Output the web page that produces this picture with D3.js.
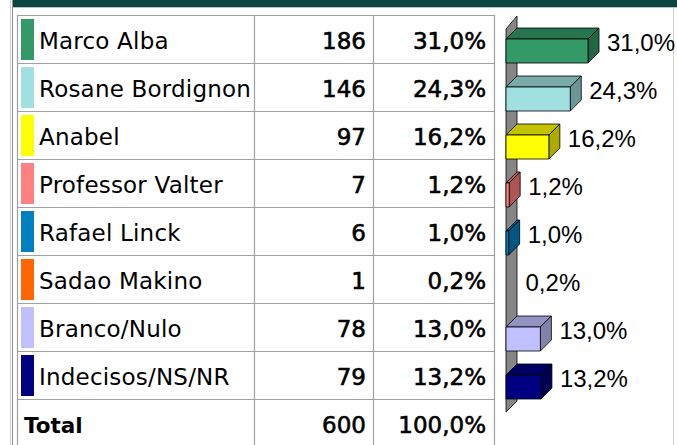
<!DOCTYPE html>
<html>
<head>
<meta charset="utf-8">
<script src="https://cdn.jsdelivr.net/npm/d3@7"></script>
<style>
  html, body { margin: 0; padding: 0; background: #fff; }
  svg { display: block; }
</style>
</head>
<body>
<svg id="chart" width="677" height="445"></svg>
<script>
// data
const names = ['Marco Alba', 'Rosane Bordignon', 'Anabel', 'Professor Valter',
  'Rafael Linck', 'Sadao Makino', 'Branco/Nulo', 'Indecisos/NS/NR'];
const votes = [186, 146, 97, 7, 6, 1, 78, 79];
const percents = [31.0, 24.3, 16.2, 1.2, 1.0, 0.2, 13.0, 13.2];
const colors = ['#339966', '#a0e0e0', '#ffff00', '#ff8080',
  '#0080c0', '#ff6600', '#c0c0ff', '#000080'];
const totalLabel = 'Total';
const totalVotes = 600;
const totalPercent = 100.0;

const fmtPct = v => d3.format('.1f')(v).replace('.', ',') + '%';

const svg = d3.select('#chart');
const W = 677, H = 445;

// page frame
svg.append('rect').attr('x', 12).attr('y', 0).attr('width', W - 12).attr('height', 7)
  .attr('fill', '#0b4641');
svg.append('line').attr('x1', 12).attr('x2', W).attr('y1', 7.5).attr('y2', 7.5)
  .attr('stroke', '#b8c4c2');
svg.append('line').attr('x1', 10.5).attr('x2', 10.5).attr('y1', 0).attr('y2', H)
  .attr('stroke', '#cfcfcf');
svg.append('line').attr('x1', 12.5).attr('x2', 12.5).attr('y1', 0).attr('y2', H)
  .attr('stroke', '#8c8c8c');
svg.append('line').attr('x1', 673.5).attr('x2', 673.5).attr('y1', 8).attr('y2', H)
  .attr('stroke', '#d0d0d0');

// table
const rows = names.concat([totalLabel]);
const y = d3.scaleBand().domain(rows).range([15, 15 + 48 * rows.length]).padding(0);
const colX = [17, 254, 373, 494];

const grid = svg.append('g').attr('stroke', '#a0a0a0').attr('stroke-width', 1.2);
rows.forEach(r => {
  grid.append('line').attr('x1', colX[0]).attr('x2', colX[3])
    .attr('y1', y(r) + 0.5).attr('y2', y(r) + 0.5);
});
colX.forEach(cx => {
  grid.append('line').attr('x1', cx + 0.5).attr('x2', cx + 0.5)
    .attr('y1', 15).attr('y2', H);
});

const txt = svg.append('g').attr('font-family', 'DejaVu Sans, Verdana, sans-serif')
  .attr('font-size', 23).attr('fill', '#000');

names.forEach((n, i) => {
  const top = y(n);
  svg.append('rect').attr('x', 21).attr('y', top + 4).attr('width', 13).attr('height', 41)
    .attr('fill', colors[i]);
  txt.append('text').attr('x', 39).attr('y', top + 34).attr('letter-spacing', 0.2).text(n);
  txt.append('text').attr('x', 366).attr('y', top + 34).attr('text-anchor', 'end')
    .attr('stroke', '#000').attr('stroke-width', 0.6).text(votes[i]);
  txt.append('text').attr('x', 486).attr('y', top + 34).attr('text-anchor', 'end')
    .attr('stroke', '#000').attr('stroke-width', 0.6).text(fmtPct(percents[i]));
});
const tTop = y(totalLabel);
txt.append('text').attr('x', 24).attr('y', tTop + 34).attr('font-weight', 'bold')
  .attr('font-size', 21.5).text(totalLabel);
txt.append('text').attr('x', 366).attr('y', tTop + 34).attr('text-anchor', 'end')
  .attr('stroke', '#000').attr('stroke-width', 0.6).text(totalVotes);
txt.append('text').attr('x', 486).attr('y', tTop + 34).attr('text-anchor', 'end')
  .attr('stroke', '#000').attr('stroke-width', 0.6).text(fmtPct(totalPercent));

// 3d bar chart
const x = d3.scaleLinear().domain([0, 31]).range([506, 588]);
const dx = 11, dy = -11, barH = 24;
const chart = svg.append('g');

const wallTop = y(names[0]) + 14, wallBot = y(names[names.length - 1]) + 48 + 13;
chart.append('polygon')
  .attr('points', [[x(0), wallTop], [x(0) + dx, wallTop + dy - 2], [x(0) + dx, wallBot + dy],
    [x(0), wallBot]].join(' '))
  .attr('fill', '#868686').attr('stroke', '#000').attr('stroke-width', 0.8);

names.forEach((n, i) => {
  const y0 = y(n) + 24, y1 = y0 + barH;
  const x0 = x(0), x1 = x(percents[i]);
  const base = d3.color(colors[i]);
  const g = chart.append('g').attr('stroke', '#000').attr('stroke-width', 0.8)
    .attr('stroke-linejoin', 'round');
  if (percents[i] >= 0.5) {
    g.append('polygon')
      .attr('points', [[x0, y0], [x0 + dx, y0 + dy], [x1 + dx, y0 + dy], [x1, y0]].join(' '))
      .attr('fill', base.darker(0.75));
    g.append('polygon')
      .attr('points', [[x1, y0], [x1 + dx, y0 + dy], [x1 + dx, y1 + dy], [x1, y1]].join(' '))
      .attr('fill', base.darker(1.1));
    g.append('rect').attr('x', x0).attr('y', y0).attr('width', x1 - x0).attr('height', barH)
      .attr('fill', colors[i]);
  }
  svg.append('text').attr('x', x1 + dx + 8).attr('y', y1 - 12.5)
    .attr('font-family', 'Liberation Sans, Arial, sans-serif').attr('font-size', 24)
    .attr('fill', '#000').text(fmtPct(percents[i]));
});
</script>
</body>
</html>
